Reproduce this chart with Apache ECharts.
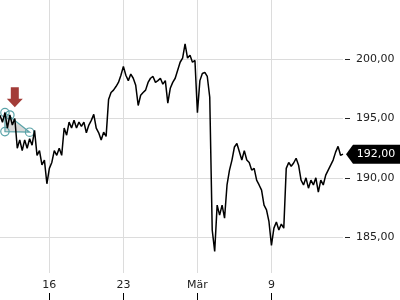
<!DOCTYPE html>
<html><head><meta charset="utf-8">
<script src="https://cdn.jsdelivr.net/npm/echarts@6/dist/echarts.min.js"></script>
<style>html,body{margin:0;padding:0;background:#fff}#c{width:400px;height:300px}</style>
</head><body><div id="c"></div>
<script>
// trading days (first day only partially covered)
const days = ['10.02','11.02','12.02','13.02','16.02','17.02','18.02','19.02','20.02',
  '23.02','24.02','25.02','26.02','27.02','02.03','03.03','04.03','05.03','06.03',
  '09.03','10.03','11.03','12.03','13.03'];
const slotTimes = ['09:00','10:30','12:00','13:30','15:00','16:30'];
const firstDaySlots = ['15:00','16:30'];

// price, one value per slot
const prices = [
  195.28, 194.69, 195.5, 194.2, 195.3, 194.45, 195.0, 192.5, 193.2, 192.3,
  193.2, 192.5, 193.3, 192.75, 194.0, 191.9, 192.3, 191.1, 191.5, 189.5,
  190.8, 191.3, 192.3, 191.9, 192.5, 191.9, 194.2, 193.6, 194.7, 194.2,
  194.85, 194.2, 194.7, 194.35, 194.7, 193.8, 194.45, 194.85, 195.35, 194.2,
  193.8, 193.2, 193.85, 193.5, 196.6, 197.2, 197.4, 197.7, 198.05, 198.65,
  199.4, 198.65, 198.2, 198.75, 198.4, 197.8, 196.1, 196.97, 197.2, 197.4,
  198.05, 198.4, 198.55, 198.05, 198.2, 198.4, 197.9, 198.2, 196.3, 197.55,
  198.05, 198.4, 199.07, 199.75, 200.1, 201.3, 200.1, 200.35, 199.75, 199.9,
  195.5, 198.2, 198.8, 198.9, 198.55, 196.8, 185.6, 183.8, 187.7, 186.86,
  187.7, 186.6, 189.4, 190.65, 191.5, 192.6, 192.9, 192.2, 191.5, 192.3,
  191.5, 191.3, 190.65, 190.8, 189.8, 189.4, 188.96, 187.7, 187.3, 186.3,
  184.3, 185.76, 186.27, 185.6, 186.1, 185.76, 190.8, 191.3, 190.98, 191.25,
  191.65, 191.07, 189.8, 189.4, 190.0, 189.13, 189.8, 189.4, 190.0, 188.8,
  189.8, 189.4, 190.23, 190.65, 191.07, 191.5, 192.17, 192.65, 191.9, 192.0
];

const yTickValues = [185, 190, 195, 200];
const xTickDays = ['16.02', '23.02', '02.03', '09.03'];
const xTickLabels = ['16', '23', 'Mär', '9'];

// triangle pattern annotation (category index, price)
const triIdx = [2, 12, 2];
const triVal = [195.5, 193.85, 193.9];
const circIdx = [2, 4, 2, 12];
const circVal = [195.5, 195.3, 193.9, 193.85];
// signal arrow
const arrowIdx = 6;
const arrowVal = 196.8;

const categories = [];
days.forEach((d, k) => {
  (k === 0 ? firstDaySlots : slotTimes).forEach(t => categories.push(d + ' ' + t));
});
const tickCats = xTickDays.map(d => d + ' ' + slotTimes[0]);
const isTick = (i, v) => tickCats.indexOf(v) >= 0;
const fmt = v => v.toFixed(2).replace('.', ',');
const lastIdx = prices.length - 1;
const lastVal = prices[lastIdx];

const FONT = 'DejaVu Sans';
const chart = echarts.init(document.getElementById('c'), null, {renderer: 'canvas'});
chart.setOption({
  animation: false,
  textStyle: {fontFamily: FONT},
  grid: [
    {left: 0, right: 57, top: 0, bottom: 3.6},
    {left: 0, right: 57, top: 0, bottom: 27},
    {left: 0, right: 57, top: 0, bottom: 0}
  ],
  xAxis: [
    {gridIndex: 0, type: 'category', data: categories, boundaryGap: false,
     axisLine: {show: false}, axisTick: {show: false}, axisLabel: {show: false}, splitLine: {show: false}},
    {gridIndex: 1, type: 'category', data: categories, boundaryGap: false,
     axisLine: {show: false}, axisTick: {show: false},
     axisLabel: {interval: isTick, margin: 7, fontSize: 11, color: '#222', fontFamily: FONT,
       formatter: v => xTickLabels[xTickDays.indexOf(v.split(' ')[0])]},
     splitLine: {show: true, interval: isTick, lineStyle: {color: '#dcdcdc', width: 1}}},
    {gridIndex: 2, type: 'category', data: categories, boundaryGap: false,
     axisLine: {show: false}, axisLabel: {show: false}, splitLine: {show: false},
     axisTick: {show: true, inside: true, length: 7, interval: isTick, lineStyle: {color: '#000', width: 1}}}
  ],
  yAxis: [
    {gridIndex: 0, type: 'value', position: 'right', min: 180, max: 205, interval: 5, offset: 2,
     axisLine: {show: false},
     axisTick: {show: true, length: 5, customValues: yTickValues, lineStyle: {color: '#222', width: 1}},
     axisLabel: {margin: 11, fontSize: 11, color: '#222', fontFamily: FONT, customValues: yTickValues,
       formatter: fmt},
     splitLine: {show: true, lineStyle: {color: '#dcdcdc', width: 1}}},
    {gridIndex: 1, type: 'value', show: false},
    {gridIndex: 2, type: 'value', show: false}
  ],
  series: [
    {
      type: 'custom', xAxisIndex: 0, yAxisIndex: 0, z: 1, silent: true,
      data: [0],
      renderItem: (params, api) => {
        const pts = triIdx.map((ix, k) => api.coord([ix, triVal[k]]));
        const children = [{
          type: 'polygon', shape: {points: pts},
          style: {fill: 'rgba(200,200,200,0.7)', stroke: '#5aa3a8', lineWidth: 1.2}
        }];
        circIdx.forEach((ix, k) => {
          const p = api.coord([ix, circVal[k]]);
          children.push({type: 'circle', shape: {cx: p[0], cy: p[1], r: 4.2},
            style: {fill: 'none', stroke: '#5aa3a8', lineWidth: 1.2}});
        });
        return {type: 'group', children};
      }
    },
    {
      type: 'line', xAxisIndex: 0, yAxisIndex: 0, z: 3,
      data: prices, showSymbol: false, symbol: 'none',
      lineStyle: {color: '#000', width: 1.5},
      markPoint: {
        silent: true,
        data: [
          {coord: [arrowIdx, arrowVal],
           symbol: 'path://M4,0 L12,0 L12,11.6 L16,11.6 L8,20 L0,11.6 L4,11.6 Z',
           symbolSize: [16, 20], itemStyle: {color: '#a33c38'}, label: {show: false}},
          {coord: [lastIdx, lastVal],
           symbol: 'path://M0,9.5 L7,0 L54,0 L54,19 L7,19 Z',
           symbolSize: [54, 19], symbolOffset: [30, 0], itemStyle: {color: '#000'},
           label: {show: true, position: 'inside', formatter: fmt(lastVal), color: '#fff',
             fontSize: 11, fontFamily: FONT, offset: [3, 0]}}
        ]
      }
    }
  ]
});
</script></body></html>
